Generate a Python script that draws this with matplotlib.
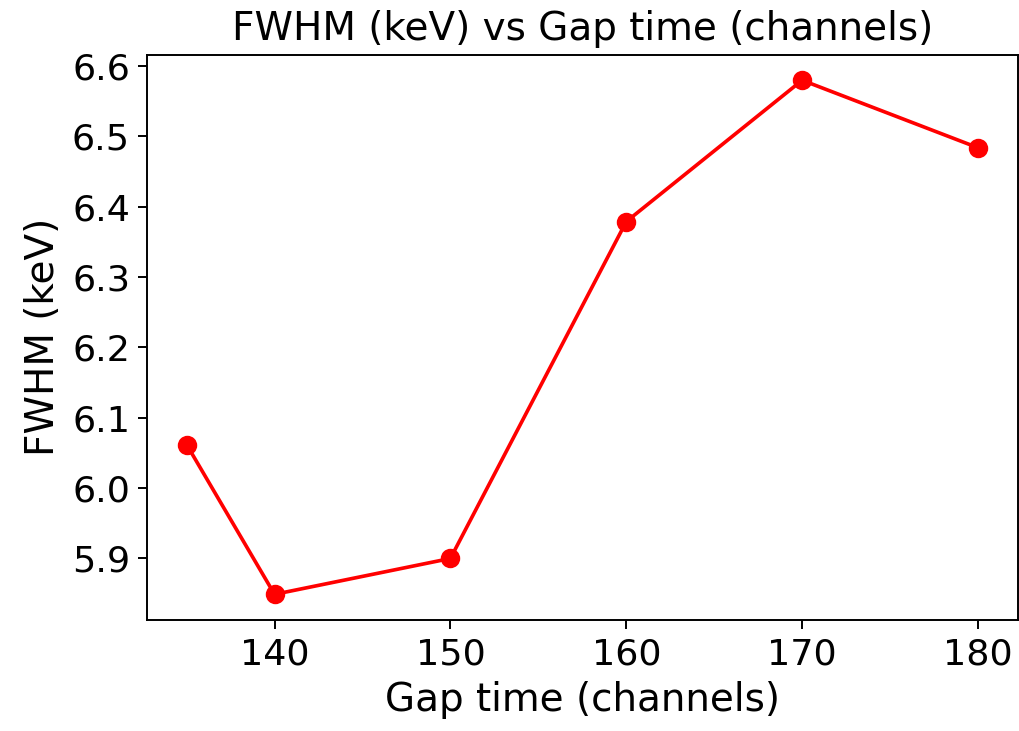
import matplotlib
matplotlib.use("Agg")
import matplotlib.pyplot as plt
import matplotlib.ticker as ticker

# gap time (channels) and measured FWHM (keV)
gap_time = [135, 140, 150, 160, 170, 180]
fwhm = [6.062, 5.849, 5.900, 6.379, 6.580, 6.484]

plt.rcParams['font.size'] = 16

fig = plt.figure(figsize=(1019 / 175, 731 / 175), dpi=175)
ax = fig.add_axes([0.1443, 0.1518, 0.8543, 0.7736])
ax.plot(gap_time, fwhm, 'ro-', markersize=7)
ax.set_title("FWHM (keV) vs Gap time (channels)", fontsize=16)
ax.set_xlabel("Gap time (channels)")
ax.set_ylabel("FWHM (keV)")
ax.yaxis.set_major_locator(ticker.MultipleLocator(0.1))
ax.tick_params(labelsize=15)

fig.savefig("out.png", dpi=175)
